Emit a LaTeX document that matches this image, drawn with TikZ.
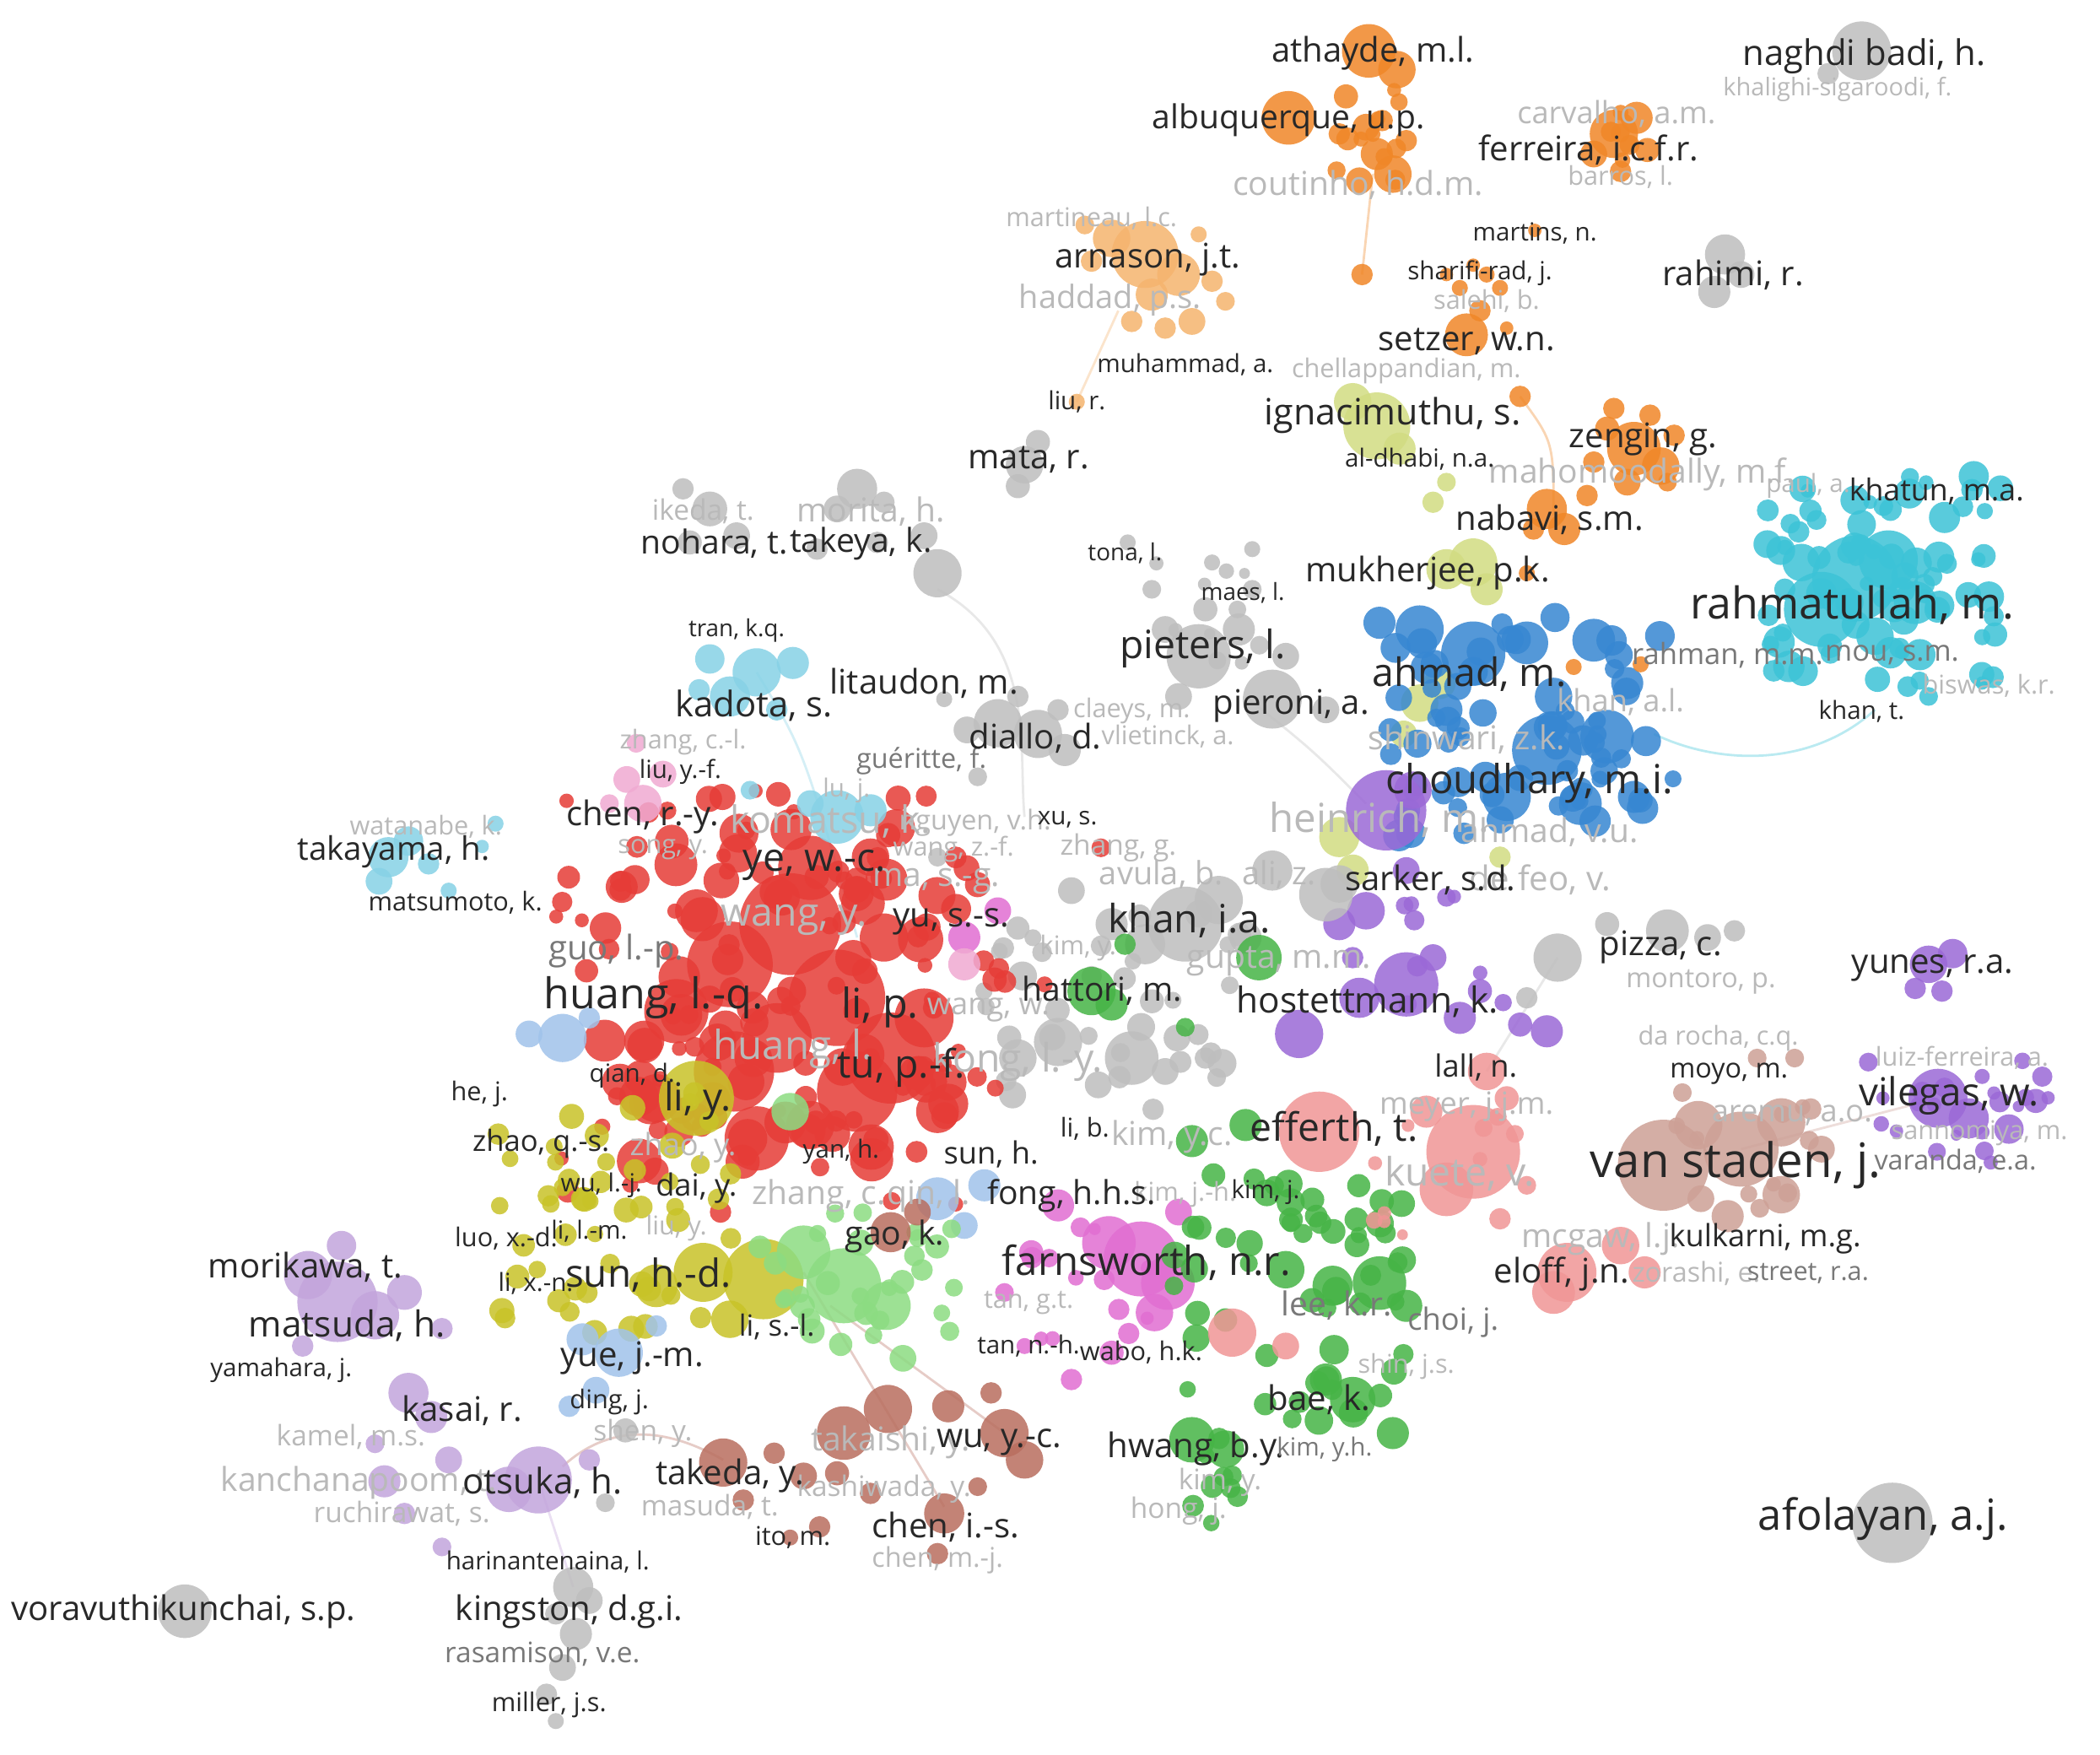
\documentclass[tikz,border=0pt]{standalone}
\usepackage{fontspec}
\setmainfont{Open Sans}
\definecolor{cRed}{RGB}{230,60,55}
\definecolor{cGreen}{RGB}{70,180,70}
\definecolor{cBlue}{RGB}{55,135,210}
\definecolor{cOlive}{RGB}{200,195,40}
\definecolor{cPurple}{RGB}{155,105,215}
\definecolor{cCyan}{RGB}{60,195,215}
\definecolor{cOrange}{RGB}{240,135,40}
\definecolor{cBrown}{RGB}{185,110,95}
\definecolor{cMag}{RGB}{225,110,210}
\definecolor{cSalmon}{RGB}{240,150,150}
\definecolor{cLBlue}{RGB}{160,195,235}
\definecolor{cLCyan}{RGB}{135,210,230}
\definecolor{cLav}{RGB}{195,165,220}
\definecolor{cLGreen}{RGB}{140,220,130}
\definecolor{cLOrange}{RGB}{245,180,110}
\definecolor{cTan}{RGB}{205,160,150}
\definecolor{cLOlive}{RGB}{210,220,130}
\definecolor{cGrey}{RGB}{190,190,190}
\definecolor{cPink}{RGB}{240,170,210}
\definecolor{tDark}{RGB}{40,40,40}
\definecolor{tMid}{RGB}{120,120,120}
\definecolor{tFaint}{RGB}{185,185,185}
\newcommand\B[4]{\fill[#1,bub] (#2,#3) circle[radius=#4*0.1mm];}
\newcommand\scat[8]{%
  \foreach \i in {1,...,#6}{%
    \pgfmathsetmacro\px{#2+#4*rand}%
    \pgfmathsetmacro\py{#3+#5*rand}%
    \pgfmathsetmacro\pr{#7+(#8-#7)*rnd}%
    \fill[#1,bub] (\px,\py) circle[radius=\pr*0.1mm];}}
\tikzset{
  bub/.style={opacity=0.85},
  L/.style={font=\fontsize{#1}{#1}\selectfont, text=tDark, inner sep=0pt},
  G/.style={font=\fontsize{#1}{#1}\selectfont, text=tMid, inner sep=0pt},
  F/.style={font=\fontsize{#1}{#1}\selectfont, text=tFaint, inner sep=0pt},
  link/.style={line width=0.5pt, opacity=0.35}
}
\begin{document}
\begin{tikzpicture}[x=0.1mm,y=-0.1mm]
\pgfmathsetseed{7}
\fill[white] (0,0) rectangle (1568,1310);
\useasboundingbox (0,0) rectangle (1568,1310);
% ---- connector end points
\coordinate (oA) at (1017,205); \coordinate (oB) at (1025,130);
\coordinate (aA) at (804,300);  \coordinate (aB) at (835,232);
\coordinate (zA) at (1135,296); \coordinate (zB) at (1160,385);
\coordinate (cyE) at (1400,530); \coordinate (blE) at (1235,548);
\coordinate (otE) at (420,1095); \coordinate (tkE) at (540,1090);
\coordinate (nhE) at (700,440); \coordinate (dlE) at (765,610);
\coordinate (piE) at (930,520); \coordinate (puE) at (1020,600);
\coordinate (lgE) at (600,950); \coordinate (brE) at (705,1125);
\coordinate (lgF) at (620,975); \coordinate (brF) at (750,1070);
\coordinate (grE) at (1163,715); \coordinate (saE) at (1110,800);
\coordinate (tnE) at (1300,858); \coordinate (vpE) at (1447,820);
\coordinate (otF) at (402,1105); \coordinate (kgE) at (428,1185);
\coordinate (kdE) at (565,502); \coordinate (rdE) at (640,700);
% ---- connectors
\draw[link,cOrange] (oA) -- (oB);
\draw[link,cLOrange] (aA) -- (aB);
\draw[link,cOrange] (zA) .. controls (1160,330) .. (zB);
\draw[link,cCyan] (cyE) .. controls (1350,575) and (1280,570) .. (blE);
\draw[link,cBrown] (otE) .. controls (460,1058) and (505,1070) .. (tkE);
\draw[link,cGrey] (nhE) .. controls (775,480) and (760,560) .. (dlE);
\draw[link,cGrey] (piE) .. controls (980,560) .. (puE);
\draw[link,cBrown] (lgE) -- (brE);
\draw[link,cBrown] (lgF) -- (brF);
\draw[link,cGrey] (grE) -- (saE);
\draw[link,cTan] (tnE) -- (vpE);
\draw[link,cLav] (otF) -- (kgE);
\draw[link,cLCyan] (kdE) .. controls (600,560) .. (rdE);
% ---- orange
\B{cOrange}{1022}{38}{20}\B{cOrange}{1043}{52}{14}\B{cOrange}{962}{88}{20}
\B{cOrange}{1005}{72}{9}\B{cOrange}{1020}{95}{10}\B{cOrange}{1032}{90}{8}
\B{cOrange}{1000}{100}{8}\B{cOrange}{1028}{115}{12}\B{cOrange}{1040}{130}{14}
\B{cOrange}{1015}{135}{10}\B{cOrange}{1050}{105}{8}\B{cOrange}{1017}{205}{8}
\scat{cOrange}{1020}{95}{30}{40}{10}{5}{9}
\B{cOrange}{1205}{100}{18}\B{cOrange}{1222}{88}{12}\B{cOrange}{1190}{115}{10}
\B{cOrange}{1210}{128}{8}\B{cOrange}{1230}{112}{9}
\scat{cOrange}{1210}{100}{22}{22}{5}{5}{8}
\B{cLOrange}{855}{190}{25}\B{cLOrange}{830}{178}{14}\B{cLOrange}{880}{205}{16}
\B{cLOrange}{860}{220}{12}\B{cLOrange}{905}{210}{8}\B{cLOrange}{915}{225}{7}
\B{cLOrange}{890}{240}{10}\B{cLOrange}{870}{245}{8}\B{cLOrange}{845}{240}{8}
\B{cLOrange}{815}{195}{8}\B{cLOrange}{895}{175}{6}\B{cLOrange}{810}{168}{7}
\B{cLOrange}{804}{300}{6}
\B{cOrange}{1095}{250}{16}\B{cOrange}{1105}{232}{8}\B{cOrange}{1090}{215}{6}
\B{cOrange}{1110}{205}{6}\B{cOrange}{1120}{215}{6}\B{cOrange}{1100}{198}{5}
\B{cOrange}{1080}{205}{5}\B{cOrange}{1146}{172}{5}\B{cOrange}{1125}{245}{5}
\B{cOrange}{1220}{335}{20}\B{cOrange}{1240}{348}{14}\B{cOrange}{1200}{320}{9}
\B{cOrange}{1205}{305}{8}\B{cOrange}{1232}{310}{8}\B{cOrange}{1250}{325}{8}
\B{cOrange}{1190}{345}{8}\B{cOrange}{1215}{360}{10}\B{cOrange}{1245}{360}{7}
\B{cOrange}{1135}{296}{8}\B{cOrange}{1155}{380}{15}\B{cOrange}{1168}{395}{12}
\B{cOrange}{1145}{395}{8}\B{cOrange}{1185}{370}{8}
% ---- light olive
\B{cLOlive}{1028}{318}{25}\B{cLOlive}{1010}{300}{14}\B{cLOlive}{1045}{335}{12}
\B{cLOlive}{1100}{420}{18}\B{cLOlive}{1080}{425}{15}\B{cLOlive}{1110}{440}{12}
\B{cLOlive}{1070}{375}{8}\B{cLOlive}{1080}{360}{7}\B{cLOlive}{1060}{525}{14}
\B{cLOlive}{1075}{510}{12}\B{cLOlive}{1048}{548}{10}\B{cLOlive}{1000}{625}{15}
\B{cLOlive}{1010}{650}{12}\B{cLOlive}{1120}{640}{8}
% ---- cyan
\B{cCyan}{1385}{432}{32}\B{cCyan}{1360}{455}{28}\B{cCyan}{1410}{418}{22}
\B{cCyan}{1430}{450}{16}\B{cCyan}{1345}{420}{14}\B{cCyan}{1400}{475}{14}
\scat{cCyan}{1405}{435}{90}{80}{75}{5}{12}
\B{cCyan}{1440}{520}{7}\B{cCyan}{1480}{510}{5}
% ---- blue
\B{cBlue}{1100}{488}{24}\B{cBlue}{1060}{470}{18}\B{cBlue}{1030}{465}{12}
\B{cBlue}{1140}{480}{16}\B{cBlue}{1190}{478}{16}\B{cBlue}{1155}{560}{26}
\B{cBlue}{1200}{550}{20}\B{cBlue}{1125}{595}{18}\B{cBlue}{1180}{600}{16}
\B{cBlue}{1220}{595}{12}\B{cBlue}{1160}{520}{14}\B{cBlue}{1215}{510}{12}
\B{cBlue}{1080}{530}{12}
\scat{cBlue}{1140}{545}{110}{85}{65}{6}{12}
\B{cOrange}{1140}{428}{6}\B{cOrange}{1175}{498}{6}\B{cOrange}{1225}{496}{6}
% ---- purple
\B{cPurple}{1035}{605}{30}\B{cPurple}{1055}{590}{14}\B{cPurple}{1050}{735}{24}
\B{cPurple}{1015}{745}{15}\B{cPurple}{970}{772}{18}\B{cPurple}{1020}{680}{14}
\B{cPurple}{1050}{650}{10}\B{cPurple}{1080}{670}{7}\B{cPurple}{1090}{760}{12}
\B{cPurple}{1135}{765}{9}\B{cPurple}{1155}{770}{12}\B{cPurple}{1105}{740}{9}
\B{cPurple}{1070}{715}{10}\B{cPurple}{1000}{690}{12}\B{cPurple}{1010}{715}{8}
\scat{cPurple}{1060}{700}{70}{55}{8}{5}{8}
% ---- greys
\B{cGrey}{885}{690}{28}\B{cGrey}{910}{672}{18}\B{cGrey}{855}{705}{15}
\B{cGrey}{830}{690}{12}\B{cGrey}{800}{665}{10}\B{cGrey}{950}{650}{15}
\B{cGrey}{990}{668}{20}\B{cGrey}{930}{700}{12}\B{cGrey}{845}{790}{20}
\B{cGrey}{790}{778}{18}\B{cGrey}{760}{790}{14}\B{cGrey}{820}{810}{10}
\B{cGrey}{870}{800}{10}\B{cGrey}{900}{790}{8}
\scat{cGrey}{830}{755}{100}{75}{35}{6}{11}
\B{cGrey}{1163}{715}{18}\B{cGrey}{1200}{690}{9}\B{cGrey}{1245}{695}{16}
\B{cGrey}{1275}{700}{10}\B{cGrey}{1295}{695}{8}\B{cGrey}{1140}{745}{8}
\B{cGrey}{895}{490}{24}\B{cGrey}{950}{522}{22}\B{cGrey}{925}{470}{12}
\B{cGrey}{870}{470}{10}\B{cGrey}{900}{455}{9}\B{cGrey}{935}{440}{7}
\B{cGrey}{880}{520}{10}\B{cGrey}{860}{440}{7}\B{cGrey}{842}{405}{6}
\B{cGrey}{935}{410}{6}\B{cGrey}{905}{420}{6}\B{cGrey}{960}{490}{10}
\B{cGrey}{990}{530}{10}
\scat{cGrey}{900}{470}{45}{55}{10}{4}{7}
\B{cGrey}{530}{380}{13}\B{cGrey}{510}{365}{8}\B{cGrey}{550}{400}{10}
\B{cGrey}{515}{405}{9}\B{cGrey}{640}{365}{15}\B{cGrey}{625}{380}{10}
\B{cGrey}{660}{375}{8}\B{cGrey}{700}{428}{18}\B{cGrey}{690}{400}{10}
\B{cGrey}{655}{405}{8}\B{cGrey}{610}{410}{8}
\B{cGrey}{765}{347}{14}\B{cGrey}{775}{330}{9}\B{cGrey}{760}{363}{9}
\B{cGrey}{745}{540}{18}\B{cGrey}{775}{548}{18}\B{cGrey}{795}{560}{12}
\B{cGrey}{722}{545}{10}\B{cGrey}{760}{520}{8}\B{cGrey}{790}{530}{8}
\B{cGrey}{705}{522}{6}\B{cGrey}{700}{640}{7}\B{cGrey}{730}{580}{7}
\B{cGrey}{1390}{38}{22}\B{cGrey}{1365}{55}{8}
\B{cGrey}{1288}{190}{15}\B{cGrey}{1280}{218}{12}\B{cGrey}{1300}{205}{10}
\B{cGrey}{1413}{1137}{30}
\B{cGrey}{138}{1203}{20}
\B{cGrey}{428}{1185}{15}\B{cGrey}{440}{1195}{10}\B{cGrey}{415}{1205}{8}
\B{cGrey}{430}{1220}{12}\B{cGrey}{420}{1245}{10}\B{cGrey}{408}{1265}{8}
\B{cGrey}{415}{1285}{6}
\B{cGrey}{467}{1068}{9}\B{cGrey}{452}{1122}{7}\B{cGrey}{1000}{660}{14}
% ---- red
\B{cRed}{590}{690}{38}\B{cRed}{545}{720}{32}\B{cRed}{625}{745}{36}
\B{cRed}{665}{790}{34}\B{cRed}{640}{815}{30}\B{cRed}{548}{800}{30}
\B{cRed}{605}{648}{24}\B{cRed}{565}{850}{24}\B{cRed}{505}{755}{24}
\B{cRed}{690}{760}{22}\B{cRed}{660}{700}{18}\B{cRed}{520}{680}{16}
\B{cRed}{580}{775}{26}\B{cRed}{490}{820}{18}\B{cRed}{605}{840}{18}
\B{cRed}{700}{830}{16}\B{cRed}{650}{640}{14}
\scat{cRed}{590}{745}{140}{130}{60}{9}{17}
\scat{cRed}{585}{745}{170}{155}{90}{5}{10}
\B{cRed}{822}{633}{7}\B{cRed}{538}{905}{8}\B{cRed}{780}{735}{6}
% ---- olive
\B{cOlive}{520}{820}{28}\B{cOlive}{570}{955}{30}\B{cOlive}{525}{950}{22}
\B{cOlive}{490}{960}{16}\B{cOlive}{545}{985}{14}
\scat{cOlive}{455}{905}{100}{90}{50}{6}{10}
% ---- light blue
\B{cLBlue}{420}{775}{18}\B{cLBlue}{395}{772}{10}\B{cLBlue}{440}{760}{8}
\B{cLBlue}{462}{1010}{18}\B{cLBlue}{435}{1000}{12}\B{cLBlue}{445}{1038}{10}
\B{cLBlue}{425}{1050}{8}\B{cLBlue}{490}{990}{8}\B{cLBlue}{700}{895}{16}
\B{cLBlue}{735}{885}{12}\B{cLBlue}{720}{915}{10}
% ---- light green
\B{cLGreen}{630}{960}{28}\B{cLGreen}{600}{935}{20}\B{cLGreen}{662}{975}{18}
\B{cLGreen}{590}{830}{14}
\scat{cLGreen}{640}{960}{75}{55}{30}{6}{10}
% ---- brown
\B{cBrown}{540}{1092}{18}\B{cBrown}{630}{1070}{20}\B{cBrown}{663}{1052}{18}
\B{cBrown}{708}{1050}{12}\B{cBrown}{750}{1070}{18}\B{cBrown}{765}{1090}{14}
\B{cBrown}{705}{1130}{15}\B{cBrown}{600}{1102}{10}\B{cBrown}{612}{1140}{8}
\B{cBrown}{578}{1085}{8}\B{cBrown}{625}{1100}{9}\B{cBrown}{650}{1115}{8}
\B{cBrown}{590}{1148}{6}\B{cBrown}{700}{1160}{8}\B{cBrown}{730}{1110}{7}
\B{cBrown}{665}{920}{15}\B{cBrown}{685}{905}{10}\B{cBrown}{740}{1040}{8}
\B{cBrown}{555}{1120}{8}
% ---- magenta / pink
\B{cMag}{852}{940}{28}\B{cMag}{828}{928}{20}\B{cMag}{872}{958}{20}
\B{cMag}{862}{980}{14}\B{cMag}{790}{900}{12}\B{cMag}{770}{935}{9}
\B{cMag}{750}{965}{7}\B{cMag}{800}{1030}{8}\B{cMag}{830}{1010}{9}
\B{cMag}{765}{1005}{6}\B{cMag}{880}{905}{10}\B{cMag}{745}{680}{10}
\B{cMag}{720}{700}{12}
\scat{cMag}{820}{960}{55}{45}{12}{4}{8}
\B{cPink}{480}{600}{14}\B{cPink}{468}{582}{10}\B{cPink}{495}{578}{10}
\B{cPink}{475}{555}{7}\B{cPink}{455}{600}{7}\B{cPink}{720}{720}{12}
% ---- green
\B{cGreen}{940}{715}{17}\B{cGreen}{815}{740}{18}\B{cGreen}{830}{750}{12}
\B{cGreen}{840}{705}{8}\B{cGreen}{885}{767}{7}\B{cGreen}{1030}{958}{20}
\B{cGreen}{960}{948}{14}\B{cGreen}{995}{960}{15}\B{cGreen}{1050}{975}{12}
\B{cGreen}{890}{852}{12}\B{cGreen}{930}{840}{12}\B{cGreen}{890}{1075}{17}
\B{cGreen}{915}{1082}{14}\B{cGreen}{1010}{1045}{17}\B{cGreen}{990}{1030}{12}
\B{cGreen}{1040}{1070}{12}
\scat{cGreen}{965}{975}{90}{100}{55}{6}{11}
\scat{cGreen}{905}{1110}{22}{32}{8}{6}{9}
% ---- salmon
\B{cSalmon}{985}{845}{30}\B{cSalmon}{1100}{860}{35}\B{cSalmon}{1080}{888}{20}
\B{cSalmon}{1065}{830}{12}\B{cSalmon}{1125}{820}{9}\B{cSalmon}{1110}{800}{14}
\B{cSalmon}{920}{995}{18}\B{cSalmon}{1170}{950}{22}\B{cSalmon}{1160}{965}{16}
\B{cSalmon}{1210}{930}{14}\B{cSalmon}{1228}{950}{12}\B{cSalmon}{1120}{910}{8}
\B{cSalmon}{1140}{885}{7}\B{cSalmon}{960}{1005}{10}
\scat{cSalmon}{1080}{880}{60}{50}{10}{4}{7}
% ---- tan
\B{cTan}{1242}{870}{34}\B{cTan}{1300}{858}{28}\B{cTan}{1330}{838}{18}
\B{cTan}{1268}{840}{18}\B{cTan}{1330}{892}{14}\B{cTan}{1290}{908}{12}
\B{cTan}{1312}{790}{7}\B{cTan}{1360}{858}{10}\B{cTan}{1352}{828}{8}
\B{cTan}{1340}{790}{7}\B{cTan}{1270}{895}{10}
\scat{cTan}{1300}{860}{55}{45}{10}{5}{8}
% ---- purple right
\B{cPurple}{1447}{820}{22}\B{cPurple}{1470}{835}{15}\B{cPurple}{1500}{843}{11}
\B{cPurple}{1520}{822}{9}\B{cPurple}{1395}{793}{7}
\scat{cPurple}{1465}{830}{65}{38}{20}{4}{8}
\B{cPurple}{1440}{720}{14}\B{cPurple}{1458}{712}{11}\B{cPurple}{1430}{738}{8}
\B{cPurple}{1450}{740}{8}
% ---- lavender
\B{cLav}{252}{972}{30}\B{cLav}{230}{952}{18}\B{cLav}{280}{982}{18}
\B{cLav}{255}{930}{11}\B{cLav}{302}{965}{13}\B{cLav}{226}{1005}{8}
\B{cLav}{330}{992}{8}\B{cLav}{305}{1040}{15}\B{cLav}{322}{1058}{12}
\B{cLav}{402}{1105}{25}\B{cLav}{380}{1112}{17}\B{cLav}{335}{1090}{10}
\B{cLav}{287}{1106}{12}\B{cLav}{302}{1130}{8}\B{cLav}{330}{1155}{7}
\B{cLav}{280}{1078}{7}\B{cLav}{440}{1090}{8}
% ---- light cyan
\B{cLCyan}{565}{502}{18}\B{cLCyan}{545}{520}{15}\B{cLCyan}{592}{495}{12}
\B{cLCyan}{530}{492}{11}\B{cLCyan}{522}{515}{8}\B{cLCyan}{580}{530}{8}
\B{cLCyan}{290}{640}{15}\B{cLCyan}{305}{628}{11}\B{cLCyan}{283}{658}{10}
\B{cLCyan}{320}{645}{8}\B{cLCyan}{335}{665}{6}\B{cLCyan}{370}{615}{6}
\B{cLCyan}{360}{632}{5}
\B{cLCyan}{625}{610}{20}\B{cLCyan}{650}{605}{12}\B{cLCyan}{605}{600}{10}
\B{cLCyan}{560}{590}{7}
% ================= labels: faint first
\node[F=7] (coutinho) at (1014,138) {coutinho, h.d.m.};
\node[F=6.5] (carvalho) at (1207,85) {carvalho, a.m.};
\node[F=5.2] (khalighi) at (1372,67) {khalighi-sigaroodi, f.};
\node[F=5.5] (barros) at (1210,132) {barros, l.};
\node[F=5.5] (martineau) at (815,163) {martineau, l.c.};
\node[F=6.8] (haddad) at (829,224) {haddad, p.s.};
\node[F=5.5] (salehi) at (1110,225) {salehi, b.};
\node[F=5.5] (chellap) at (1050,277) {chellappandian, m.};
\node[F=7] (mahom) at (1226,354) {mahomoodally, m.f.};
\node[F=5.3] (paul) at (1350,363) {paul, a.};
\node[G=6.2,anchor=east] (rahman) at (1362,489) {rahman, m.m.};
\node[G=6.2,anchor=west] (mou) at (1362,489) {mou, s.m.};
\node[F=5.5] (biswas) at (1485,512) {biswas, k.r.};
\node[F=6.5] (khanal) at (1210,524) {khan, a.l.};
\node[F=7] (shinwari) at (1095,552) {shinwari, z.k.};
\node[F=7] (ahmadvu) at (1157,621) {ahmad, v.u.};
\node[F=8.5] (heinrich) at (1030,612) {heinrich, m.};
\node[F=7.2] (defeo) at (1150,657) {de feo, v.};
\node[F=6.8] (aliz) at (955,653) {ali, z.};
\node[F=6.8] (avula) at (867,653) {avula, b.};
\node[F=5.8] (montoro) at (1270,733) {montoro, p.};
\node[F=7] (gupta) at (955,718) {gupta, m.m.};
\node[F=5.5] (darocha) at (1283,775) {da rocha, c.q.};
\node[F=5.5] (luiz) at (1465,790) {luiz-ferreira, a.};
\node[F=6.5] (meyer) at (1095,826) {meyer, j.j.m.};
\node[F=6.5] (aremu) at (1338,833) {aremu, a.o.};
\node[F=7] (kimyc) at (875,849) {kim, y.c.};
\node[F=5.5] (sannom) at (1478,846) {sannomiya, m.};
\node[F=8.3] (kuete) at (1090,876) {kuete, v.};
\node[F=7] (mcgaw) at (1195,925) {mcgaw, l.j.};
\node[F=5.8,anchor=west] (zorashi) at (1218,951) {zorashi, e.};
\node[F=5.5] (kimjh) at (885,892) {kim, j.-h.};
\node[F=5.5] (tangt) at (768,973) {tan, g.t.};
\node[F=5.5] (shin) at (1050,1020) {shin, j.s.};
\node[F=6] (kimy2) at (911,1107) {kim, y.};
\node[F=6] (hong) at (880,1128) {hong, j.};
\node[F=5.8] (chenmj) at (700,1165) {chen, m.-j.};
\node[F=7] (takaishi) at (665,1077) {takaishi, y.};
\node[F=6] (kashiwada) at (660,1112) {kashiwada, y.};
\node[F=6] (masuda) at (530,1125) {masuda, t.};
\node[F=7] (kancha) at (268,1107) {kanchanapoom, t.};
\node[F=6] (ruchi) at (300,1130) {ruchirawat, s.};
\node[F=6] (kamel) at (262,1073) {kamel, m.s.};
\node[F=6] (shen) at (480,1070) {shen, y.};
\node[F=5.5] (liuy) at (505,917) {liu, y.};
\node[F=7,anchor=east] (zhangc) at (662,893) {zhang, c.};
\node[F=7,anchor=west] (qinl) at (662,893) {qin, l.};
\node[F=6.5] (zhaoy) at (510,857) {zhao, y.};
\node[F=8.5] (huangl) at (592,783) {huang, l.};
\node[F=6.5] (wangw) at (738,754) {wang, w.};
\node[F=8.3] (wangy) at (593,687) {wang, y.};
\node[F=7] (masg) at (699,658) {ma, s.-g.};
\node[F=5.5] (song) at (495,634) {song, y.};
\node[F=5.5] (zhangcl) at (510,554) {zhang, c.-l.};
\node[F=8] (komatsu) at (620,613) {komatsu, k.};
\node[F=5.8] (nguyen) at (728,614) {nguyen, v.h.};
\node[F=5.3] (luj) at (632,590) {lu, j.};
\node[F=5.5] (watanabe) at (318,617) {watanabe, k.};
\node[F=5.5] (vlietinck) at (872,550) {vlietinck, a.};
\node[F=5.5] (claeys) at (845,531) {claeys, m.};
\node[F=7] (morita) at (650,382) {morita, h.};
\node[F=6] (ikeda) at (525,382) {ikeda, t.};
\node[F=6] (zhangg) at (835,633) {zhang, g.};
\node[F=5.5] (wangzf) at (712,634) {wang, z.-f.};
\node[F=5.5] (kimy3) at (805,708) {kim, y.};
\node[F=8.3] (kongly) at (760,793) {kong, l.-y.};
% ================= labels: dark
\node[L=7.2] (athayde) at (1025,40) {athayde, m.l.};
\node[L=7] (albuq) at (962,90) {albuquerque, u.p.};
\node[L=7.5] (naghdi) at (1392,42) {naghdi badi, h.};
\node[L=7.2] (ferreira) at (1186,112) {ferreira, i.c.f.r.};
\node[L=7.2] (arnason) at (857,194) {arnason, j.t.};
\node[L=5.3] (muhammad) at (885,272) {muhammad, a.};
\node[L=5.3] (liur) at (804,300) {liu, r.};
\node[L=5.3] (martins) at (1146,174) {martins, n.};
\node[L=5.3] (sharifi) at (1105,204) {sharifi-rad, j.};
\node[L=7.2] (setzer) at (1095,255) {setzer, w.n.};
\node[L=7.2] (rahimi) at (1294,205) {rahimi, r.};
\node[L=7.7] (ignaci) at (1040,310) {ignacimuthu, s.};
\node[L=5.3] (aldhabi) at (1060,343) {al-dhabi, n.a.};
\node[L=7.2] (zengin) at (1227,328) {zengin, g.};
\node[L=7.2] (nabavi) at (1157,388) {nabavi, s.m.};
\node[L=7.2] (mata) at (768,343) {mata, r.};
\node[L=6.4] (khatun) at (1446,367) {khatun, m.a.};
\node[L=9.3] (rahmat) at (1383,452) {rahmatullah, m.};
\node[L=5.3] (khant) at (1390,531) {khan, t.};
\node[L=7.2] (mukherjee) at (1066,428) {mukherjee, p.k.};
\node[L=8.3] (ahmadm) at (1097,503) {ahmad, m.};
\node[L=8.5] (choudhary) at (1142,585) {choudhary, m.i.};
\node[L=7.2] (sarker) at (1068,657) {sarker, s.d.};
\node[L=8.3] (khania) at (888,687) {khan, i.a.};
\node[L=7.2] (pizza) at (1240,707) {pizza, c.};
\node[L=7.2] (yunes) at (1443,723) {yunes, r.a.};
\node[L=7.6] (hostett) at (1021,748) {hostettmann, k.};
\node[L=7] (hattori) at (823,740) {hattori, m.};
\node[L=5.8] (moyo) at (1291,802) {moyo, m.};
\node[L=6.5] (lall) at (1102,797) {lall, n.};
\node[L=8.2] (vilegas) at (1455,818) {vilegas, w.};
\node[L=8.3] (efferth) at (996,843) {efferth, t.};
\node[L=5.5] (lib) at (810,843) {li, b.};
\node[L=10.1] (vanstaden) at (1296,870) {van staden, j.};
\node[G=5.8] (varanda) at (1460,867) {varanda, e.a.};
\node[L=6.5] (kulkarni) at (1318,925) {kulkarni, m.g.};
\node[L=7.2] (eloff) at (1166,951) {eloff, j.n.};
\node[G=5.5] (street) at (1350,951) {street, r.a.};
\node[L=9.1] (afolayan) at (1406,1134) {afolayan, a.j.};
\node[L=8.5] (farns) at (856,943) {farnsworth, n.r.};
\node[L=7] (fong) at (800,893) {fong, h.h.s.};
\node[L=5.3] (kimj) at (945,890) {kim, j.};
\node[G=7] (leekr) at (998,975) {lee, k.r.};
\node[G=6.5] (choi) at (1085,987) {choi, j.};
\node[L=5.3] (tannh) at (768,1005) {tan, n.-h.};
\node[L=5.5] (wabo) at (852,1010) {wabo, h.k.};
\node[L=7.2] (bae) at (985,1045) {bae, k.};
\node[L=7.2] (hwang) at (893,1082) {hwang, b.y.};
\node[G=5.3] (kimyh) at (989,1082) {kim, y.h.};
\node[L=7.2] (wuyc) at (746,1077) {wu, y.-c.};
\node[L=7.2] (chenis) at (706,1140) {chen, i.-s.};
\node[L=7.2] (takeda) at (545,1102) {takeda, y.};
\node[L=5.5] (ito) at (592,1148) {ito, m.};
\node[L=7.5] (otsuka) at (405,1107) {otsuka, h.};
\node[L=7.2] (kasai) at (345,1053) {kasai, r.};
\node[L=5.5] (ding) at (455,1047) {ding, j.};
\node[L=7.2] (yue) at (472,1014) {yue, j.-m.};
\node[L=5.3] (harin) at (409,1166) {harinantenaina, l.};
\node[L=7.2] (kingston) at (425,1203) {kingston, d.g.i.};
\node[G=6] (rasamison) at (405,1235) {rasamison, v.e.};
\node[L=5.5] (miller) at (410,1273) {miller, j.s.};
\node[L=7.2] (vorav) at (137,1203) {voravuthikunchai, s.p.};
\node[L=7.2] (morikawa) at (228,946) {morikawa, t.};
\node[L=7.6] (matsuda) at (259,990) {matsuda, h.};
\node[L=5.3] (yamahara) at (210,1023) {yamahara, j.};
\node[L=8.2] (sunhd) at (484,952) {sun, h.-d.};
\node[L=5.3] (lixn) at (400,958) {li, x.-n.};
\node[L=5.5] (luoxd) at (378,925) {luo, x.-d.};
\node[L=5.3] (lilm) at (440,919) {li, l.-m.};
\node[L=6.2] (lisl) at (580,991) {li, s.-l.};
\node[L=7] (gaok) at (668,923) {gao, k.};
\node[L=6.5] (daiy) at (520,887) {dai, y.};
\node[L=5.3] (wulj) at (449,885) {wu, l.-j.};
\node[L=6.2] (zhaoqs) at (404,854) {zhao, q.-s.};
\node[L=5.3] (yanh) at (628,860) {yan, h.};
\node[L=6.5] (sunh) at (740,862) {sun, h.};
\node[L=5.5] (hej) at (358,817) {he, j.};
\node[L=5.3] (qiand) at (472,803) {qian, d.};
\node[L=8.2] (liy) at (521,822) {li, y.};
\node[L=8.3] (tupf) at (673,797) {tu, p.-f.};
\node[L=8.7] (lip) at (657,752) {li, p.};
\node[L=9] (huanglq) at (488,745) {huang, l.-q.};
\node[G=7.2] (guolp) at (460,710) {guo, l.-p.};
\node[L=7.2] (yuss) at (710,688) {yu, s.-s.};
\node[L=8.3] (yewc) at (608,646) {ye, w.-c.};
\node[L=7.2] (chenry) at (480,610) {chen, r.-y.};
\node[L=5.3] (liuyf) at (508,576) {liu, y.-f.};
\node[L=6.9] (takayama) at (294,636) {takayama, h.};
\node[L=5.5] (matsumoto) at (340,674) {matsumoto, k.};
\node[L=5] (tran) at (550,471) {tran, k.q.};
\node[L=7.5] (kadota) at (563,527) {kadota, s.};
\node[L=7.2] (litaudon) at (690,510) {litaudon, m.};
\node[G=5.8] (guer) at (688,568) {guéritte, f.};
\node[L=7.2] (diallo) at (773,551) {diallo, d.};
\node[L=8.3] (pieters) at (898,484) {pieters, l.};
\node[L=7.2] (pieroni) at (964,527) {pieroni, a.};
\node[L=5] (tona) at (840,413) {tona, l.};
\node[L=5] (maes) at (928,443) {maes, l.};
\node[L=7,anchor=east] (nohara) at (589,406) {nohara, t.};
\node[L=7,anchor=west] (takeya) at (589,406) {takeya, k.};
\node[L=5.3] (xus) at (797,612) {xu, s.};
\end{tikzpicture}
\end{document}
